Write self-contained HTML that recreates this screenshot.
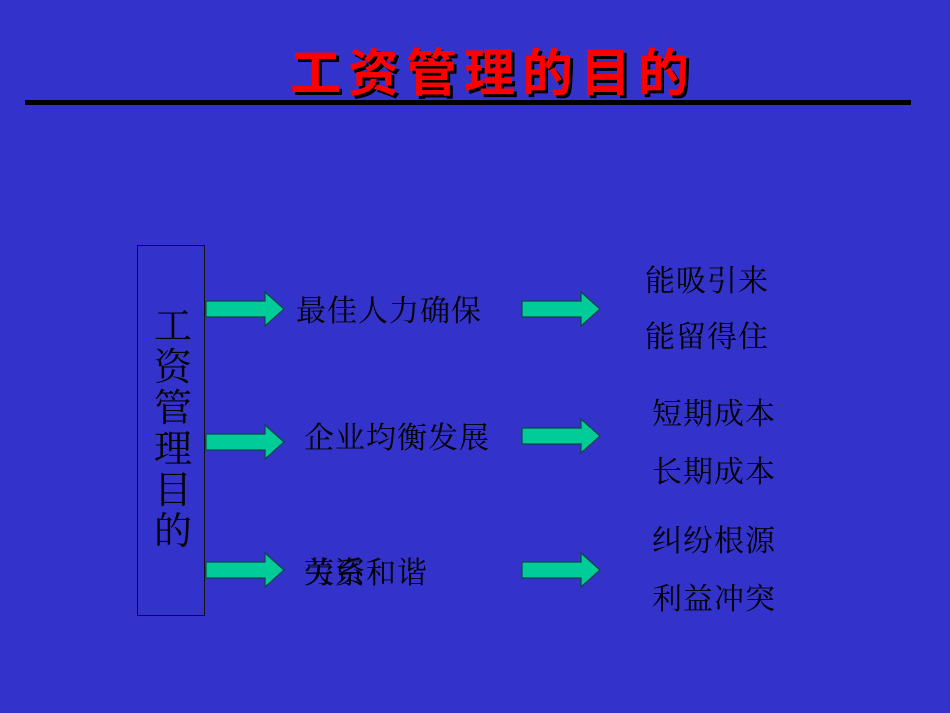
<!DOCTYPE html>
<html><head><meta charset="utf-8"><style>
body{margin:0;width:950px;height:713px;background:#3333cc;position:relative;overflow:hidden;font-family:"Liberation Serif","Noto Serif CJK SC",serif;color:#000}
.t{position:absolute;font-size:30px;letter-spacing:1px;line-height:32px;white-space:nowrap}
.title{position:absolute;left:290px;top:44px;font-size:51px;line-height:60px;font-weight:bold;color:#ff0000;letter-spacing:7px;font-family:"Liberation Sans","Noto Sans CJK SC",sans-serif;text-shadow:3px 3px 0 #000}
.line{position:absolute;left:25px;top:100px;width:886px;height:5px;background:#000}
.box{position:absolute;left:137px;top:245px;width:68px;height:371px;border:1px solid #111;box-sizing:border-box}
.vt{position:absolute;left:153px;top:307px;width:40px;font-size:38px;line-height:41px;text-align:center}
svg{position:absolute;left:0;top:0}
</style></head><body>
<div class="title">工资管理的目的</div>
<div class="line"></div>
<div class="box"></div>
<div class="vt">工<br>资<br>管<br>理<br>目<br>的</div>
<svg width="950" height="713">
<defs><polygon id="a" points="0,-8 59,-8 59,-17 78,0 59,17 59,8 0,8" fill="#00cc99" stroke="#114444" stroke-width="1.2"/></defs>
<use href="#a" x="206" y="309"/>
<use href="#a" x="206" y="442"/>
<use href="#a" x="206" y="570"/>
<use href="#a" x="522" y="309"/>
<use href="#a" x="522" y="436"/>
<use href="#a" x="522" y="570"/>
</svg>
<div class="t" style="left:296px;top:296px">最佳人力确保</div>
<div class="t" style="left:304px;top:423px">企业均衡发展</div>
<div class="t" style="left:304px;top:558px">劳资和谐</div>
<div class="t" style="left:304px;top:558px">关系</div>
<div class="t" style="left:645px;top:266px">能吸引来</div>
<div class="t" style="left:645px;top:322px">能留得住</div>
<div class="t" style="left:652px;top:399px">短期成本</div>
<div class="t" style="left:652px;top:457px">长期成本</div>
<div class="t" style="left:652px;top:526px">纠纷根源</div>
<div class="t" style="left:652px;top:584px">利益冲突</div>
</body></html>
